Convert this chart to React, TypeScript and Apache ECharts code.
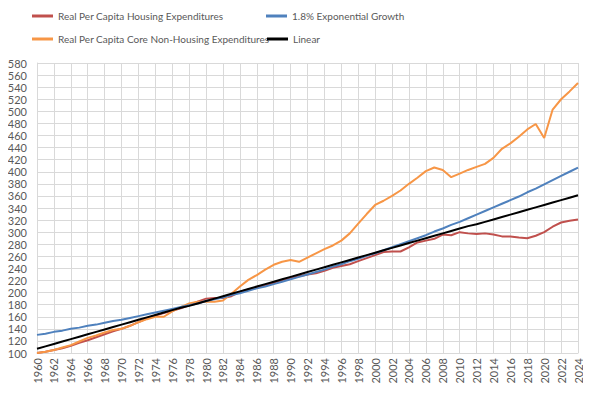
import React, { useEffect, useRef } from "react";
import * as echarts from "echarts";

const years: string[] = [];
for (let y = 1960; y <= 2024; y++) years.push(String(y));

const housing = [
  100, 102, 105, 108, 112, 117, 121, 126, 131, 136,
  140, 145, 151, 157, 162, 166, 170, 174, 179, 185,
  190, 191, 191, 194, 201, 205, 208, 212, 216, 220,
  224, 227, 230, 232, 236, 241, 244, 247, 252, 257,
  262, 267, 268, 268, 275, 283, 286, 289, 296, 295,
  300, 298, 297, 298, 296, 293, 293, 291, 290, 294,
  300, 309, 316, 319, 321,
];

const coreNonHousing = [
  100, 102, 105, 109, 113, 119, 125, 129, 134, 138,
  140, 145, 151, 156, 160, 160, 169, 176, 182, 185,
  185, 185, 187, 198, 210, 221, 229, 238, 246, 251,
  254, 251, 258, 265, 272, 278, 286, 298, 314, 330,
  345, 352, 360, 369, 380, 390, 401, 407, 403, 391,
  397, 403, 408, 413, 423, 438, 447, 458, 470, 479,
  456, 503, 520, 533, 547,
];

const exponential = [
  130, 132, 135, 137, 140, 142, 145, 147, 150, 153,
  155, 158, 161, 164, 167, 170, 173, 176, 179, 182,
  186, 189, 192, 196, 199, 203, 207, 210, 214, 218,
  222, 226, 230, 234, 238, 243, 247, 252, 256, 261,
  265, 270, 275, 280, 285, 290, 295, 301, 306, 312,
  317, 323, 329, 335, 341, 347, 353, 359, 366, 372,
  379, 386, 393, 400, 407,
];

const linear = [
  107, 111, 115, 119, 123, 127, 131, 135, 139, 143,
  147, 151, 155, 159, 163, 167, 171, 175, 178, 182,
  186, 190, 194, 198, 202, 206, 210, 214, 218, 222,
  226, 230, 234, 238, 242, 246, 250, 254, 258, 262,
  266, 270, 274, 278, 282, 286, 290, 294, 298, 302,
  306, 310, 313, 317, 321, 325, 329, 333, 337, 341,
  345, 349, 353, 357, 361,
];

const names = {
  housing: "Real Per Capita Housing Expenditures",
  exp: "1.8% Exponential Growth",
  core: "Real Per Capita Core Non-Housing Expenditures",
  linear: "Linear",
};

const colors = {
  housing: "#C0504D",
  exp: "#4F81BD",
  core: "#F79646",
  linear: "#000000",
};

const FONT = "Lato, 'Liberation Sans', Arial, sans-serif";
const TXT = "#595959";
const GRID = "#d9d9d9";

export default function App() {
  const ref = useRef<HTMLDivElement>(null);
  useEffect(() => {
    if (!ref.current) return;
    const chart = echarts.init(ref.current, undefined, { renderer: "svg" });
    const legendBase = {
      icon: "rect",
      itemWidth: 21,
      itemHeight: 3,
      itemGap: 10,
      textStyle: { color: TXT, fontSize: 10, fontFamily: FONT },
      padding: 0,
    };
    chart.setOption({
      animation: false,
      backgroundColor: "#ffffff",
      textStyle: { fontFamily: FONT },
      legend: [
        { ...legendBase, left: 32, top: 11, data: [names.housing] },
        { ...legendBase, left: 266, top: 11, data: [names.exp] },
        { ...legendBase, left: 32, top: 34, data: [names.core] },
        { ...legendBase, left: 267, top: 34, data: [names.linear] },
      ],
      grid: { left: 37, right: 13, top: 63, bottom: 40, containLabel: false },
      xAxis: {
        type: "category",
        data: years,
        boundaryGap: false,
        axisTick: { show: false },
        axisLine: { lineStyle: { color: GRID } },
        axisLabel: {
          rotate: 90,
          interval: 1,
          color: TXT,
          fontSize: 11,
          fontFamily: FONT,
          margin: 5,
        },
        splitLine: { show: true, interval: 1, lineStyle: { color: GRID, width: 1 } },
      },
      yAxis: {
        type: "value",
        min: 100,
        max: 580,
        interval: 20,
        axisLine: { show: true, lineStyle: { color: GRID } },
        axisTick: { show: false },
        axisLabel: { color: TXT, fontSize: 11, fontFamily: FONT, margin: 10 },
        splitLine: { lineStyle: { color: GRID, width: 1 } },
      },
      series: [
        {
          name: names.housing,
          type: "line",
          data: housing,
          showSymbol: false,
          symbol: "none",
          lineStyle: { color: colors.housing, width: 2 },
          itemStyle: { color: colors.housing },
        },
        {
          name: names.core,
          type: "line",
          data: coreNonHousing,
          showSymbol: false,
          symbol: "none",
          lineStyle: { color: colors.core, width: 2 },
          itemStyle: { color: colors.core },
        },
        {
          name: names.exp,
          type: "line",
          data: exponential,
          showSymbol: false,
          symbol: "none",
          lineStyle: { color: colors.exp, width: 2 },
          itemStyle: { color: colors.exp },
        },
        {
          name: names.linear,
          type: "line",
          data: linear,
          showSymbol: false,
          symbol: "none",
          lineStyle: { color: colors.linear, width: 2 },
          itemStyle: { color: colors.linear },
        },
      ],
    });
    return () => chart.dispose();
  }, []);
  return <div ref={ref} style={{ width: 591, height: 393, margin: -8 }} />;
}
